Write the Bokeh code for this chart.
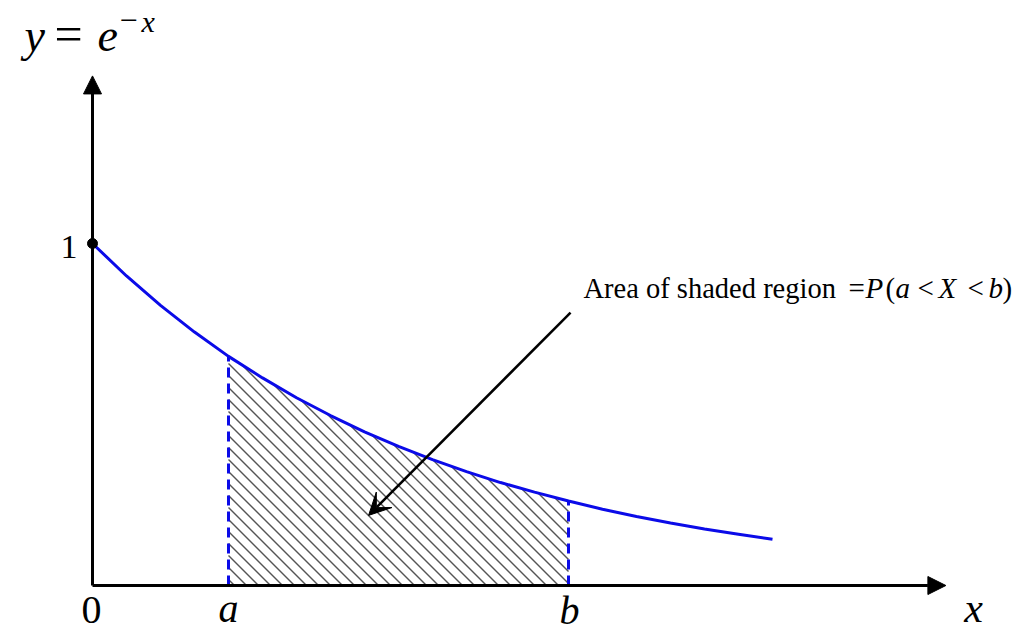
import numpy as np
from bokeh.plotting import figure
from bokeh.models import Range1d, Label, Arrow, NormalHead, VeeHead
from bokeh.embed import file_html
from bokeh.resources import INLINE

# ---- data ----
curve_x = [0.0, 0.1, 0.2, 0.3, 0.4, 0.5, 0.6, 0.7, 0.8, 0.9, 1.0,
           1.1, 1.2, 1.3, 1.4, 1.5, 1.6, 1.7, 1.8, 1.9, 2.0]
curve_y = [1.000, 0.905, 0.819, 0.741, 0.670, 0.607, 0.549, 0.497, 0.449, 0.407, 0.368,
           0.333, 0.301, 0.273, 0.247, 0.223, 0.202, 0.183, 0.165, 0.150, 0.135]
a_val = 0.4
b_val = 1.4
x_axis_end = 2.51
y_axis_end = 1.49
arrow_start = [1.406, 0.798]
arrow_end = [0.812, 0.205]

# ---- geometry helpers (page pixel -> data) ----
SX, SY = 340.0, 342.0
OX, OY = 92.0, 585.0
W, H = 1020, 635
def px(X):
    return (X - OX) / SX
def py(Y):
    return (OY - Y) / SY

p = figure(width=W, height=H, output_backend="svg", toolbar_location=None,
           x_range=Range1d(px(0), px(W)), y_range=Range1d(py(H), py(0)),
           x_axis_location=None, y_axis_location=None, min_border=0,
           outline_line_color=None, background_fill_color="white",
           border_fill_color="white")
p.grid.visible = False

BLUE = "#0b0be8"

# ---- hatching of the region under the curve between a and b (45 deg on screen) ----
def curve_at(x):
    return float(np.interp(x, curve_x, curve_y))

k = SX / SY                 # slope so that lines are at 45 degrees in pixels
spacing = 12.0 / SX         # horizontal spacing between hatch lines (data units)
hx0, hy0, hx1, hy1 = [], [], [], []
x_int = a_val + 0.5 * spacing
c_max = k * b_val + curve_at(b_val)
while k * x_int < c_max:
    c = k * x_int
    x_end = min(c / k, b_val)
    y_end = c - k * x_end
    if c - k * a_val <= curve_at(a_val):
        x_start = a_val
    else:
        lo, hi = a_val, x_end
        for _ in range(50):
            mid = 0.5 * (lo + hi)
            if c - k * mid - curve_at(mid) > 0:
                lo = mid
            else:
                hi = mid
        x_start = 0.5 * (lo + hi)
    y_start = c - k * x_start
    if x_start < x_end:
        hx0.append(x_start); hy0.append(y_start)
        hx1.append(x_end); hy1.append(y_end)
    x_int += spacing
p.segment(x0=hx0, y0=hy0, x1=hx1, y1=hy1, line_color="#555555", line_width=1.4)

# dashed verticals
ya = curve_at(a_val)
yb = curve_at(b_val)
p.segment(x0=[a_val, b_val], y0=[0, 0], x1=[a_val, b_val], y1=[ya, yb],
          line_color=BLUE, line_width=3, line_dash="10 6")

# curve
p.line(curve_x, curve_y, line_color=BLUE, line_width=3)

# axes with arrows
p.add_layout(Arrow(end=NormalHead(size=18, fill_color="black", line_color="black"),
                   x_start=0, y_start=0, x_end=x_axis_end, y_end=0,
                   line_color="black", line_width=3))
p.add_layout(Arrow(end=NormalHead(size=18, fill_color="black", line_color="black"),
                   x_start=0, y_start=0, x_end=0, y_end=y_axis_end,
                   line_color="black", line_width=3))

# dot at (0,1)
p.scatter([0], [1], size=10, color="black")

# annotation arrow
p.add_layout(Arrow(end=VeeHead(size=22, fill_color="black", line_color="black"),
                   x_start=arrow_start[0], y_start=arrow_start[1],
                   x_end=arrow_end[0], y_end=arrow_end[1],
                   line_color="black", line_width=2.5))

SERIF = "Liberation Serif"

def lab(text, X, Y, size, style="normal", align="left"):
    # Y is the wanted baseline in page pixels; Bokeh places the label a bit low
    p.add_layout(Label(x=px(X), y=py(Y - 0.33 * size), text=text, text_font=SERIF,
                       text_font_size=f"{size}px", text_font_style=style,
                       text_align=align, text_baseline="alphabetic",
                       text_color="black"))

# title y = e^{-x}
lab("y", 24, 50, 46, "italic")
lab("=", 54, 50, 50)
lab("e", 97, 50, 46, "italic")
lab("\u2212", 119, 31, 32)
lab("x", 141, 31, 30, "italic")

# tick-like labels
lab("1", 77, 258, 34, align="right")
lab("0", 91, 623, 40, align="center")
lab("a", 228, 621, 40, "italic", "center")
lab("b", 569, 623, 40, "italic", "center")
lab("x", 973, 621, 42, "italic", "center")

# annotation text
FS = 29
lab("Area of shaded region", 583, 297, 28.5)
lab("=", 848, 297, FS)
lab("P", 865, 297, FS, "italic")
lab("(", 885, 297, FS)
lab("a", 895, 297, FS, "italic")
lab("<", 917, 297, FS)
lab("X", 938, 297, FS, "italic")
lab("<", 967, 297, FS)
lab("b", 988, 297, FS, "italic")
lab(")", 1002, 297, FS)

open("out.html", "w").write(file_html(p, INLINE))
